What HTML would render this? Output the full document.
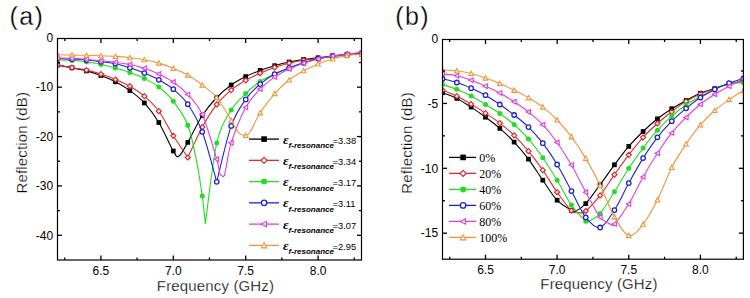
<!DOCTYPE html>
<html><head><meta charset="utf-8"><style>
html,body{margin:0;padding:0;background:#fff;}
body{width:750px;height:298px;overflow:hidden;}
svg{display:block;}
text{font-family:"Liberation Sans",sans-serif;fill:#000;}
.tk{font-size:12px;}
.ax{font-size:15px;letter-spacing:0.15px;stroke:#fff;stroke-width:0.25px;}
.pl{font-size:25px;letter-spacing:1.4px;stroke:#fff;stroke-width:0.3px;}
.eps{font-family:"Liberation Serif",serif;font-style:italic;font-weight:bold;font-size:13.5px;}
.sub{font-size:8px;font-weight:bold;font-style:italic;}
.val{font-size:9.3px;}
.pct{font-family:"Liberation Serif",serif;font-size:12px;}
</style></head><body>
<svg width="750" height="298" viewBox="0 0 750 298">
<clipPath id="ca"><rect x="57.50" y="33.80" width="304.00" height="226.20"/></clipPath>
<g clip-path="url(#ca)">
<path d="M57.50 65.10 C59.91 65.55 67.15 66.83 71.98 67.80 C76.80 68.77 81.63 69.62 86.45 70.90 C91.28 72.18 96.10 73.68 100.93 75.50 C105.75 77.32 110.58 79.28 115.40 81.80 C120.23 84.32 125.06 87.08 129.88 90.60 C134.71 94.12 139.53 97.58 144.36 102.90 C149.18 108.22 154.01 114.48 158.83 122.50 C163.66 130.52 169.98 145.38 173.31 151.00 C176.64 156.62 176.39 157.63 178.80 156.20 C181.21 154.77 183.88 149.18 187.79 142.40 C191.70 135.62 197.44 122.98 202.26 115.50 C207.09 108.02 211.91 102.58 216.74 97.50 C221.56 92.42 226.39 88.48 231.21 85.00 C236.04 81.52 240.87 79.03 245.69 76.60 C250.52 74.17 255.34 72.22 260.17 70.40 C264.99 68.58 269.82 67.10 274.64 65.70 C279.47 64.30 284.29 63.03 289.12 62.00 C293.94 60.97 298.77 60.20 303.60 59.50 C308.42 58.80 313.25 58.37 318.07 57.80 C322.90 57.23 327.72 56.60 332.55 56.10 C337.37 55.60 342.20 55.22 347.02 54.80 C351.85 54.38 359.09 53.80 361.50 53.60" fill="none" stroke="#000000" stroke-width="1.1"/>
<rect x="55.15" y="62.75" width="4.70" height="4.70" fill="#000000"/>
<rect x="69.63" y="65.45" width="4.70" height="4.70" fill="#000000"/>
<rect x="84.10" y="68.55" width="4.70" height="4.70" fill="#000000"/>
<rect x="98.58" y="73.15" width="4.70" height="4.70" fill="#000000"/>
<rect x="113.05" y="79.45" width="4.70" height="4.70" fill="#000000"/>
<rect x="127.53" y="88.25" width="4.70" height="4.70" fill="#000000"/>
<rect x="142.01" y="100.55" width="4.70" height="4.70" fill="#000000"/>
<rect x="156.48" y="120.15" width="4.70" height="4.70" fill="#000000"/>
<rect x="170.96" y="148.65" width="4.70" height="4.70" fill="#000000"/>
<rect x="185.44" y="140.05" width="4.70" height="4.70" fill="#000000"/>
<rect x="199.91" y="113.15" width="4.70" height="4.70" fill="#000000"/>
<rect x="214.39" y="95.15" width="4.70" height="4.70" fill="#000000"/>
<rect x="228.86" y="82.65" width="4.70" height="4.70" fill="#000000"/>
<rect x="243.34" y="74.25" width="4.70" height="4.70" fill="#000000"/>
<rect x="257.82" y="68.05" width="4.70" height="4.70" fill="#000000"/>
<rect x="272.29" y="63.35" width="4.70" height="4.70" fill="#000000"/>
<rect x="286.77" y="59.65" width="4.70" height="4.70" fill="#000000"/>
<rect x="301.25" y="57.15" width="4.70" height="4.70" fill="#000000"/>
<rect x="315.72" y="55.45" width="4.70" height="4.70" fill="#000000"/>
<rect x="330.20" y="53.75" width="4.70" height="4.70" fill="#000000"/>
<rect x="344.67" y="52.45" width="4.70" height="4.70" fill="#000000"/>
<rect x="359.15" y="51.25" width="4.70" height="4.70" fill="#000000"/>
<path d="M57.50 65.00 C59.91 65.45 67.15 66.85 71.98 67.70 C76.80 68.55 81.63 69.03 86.45 70.10 C91.28 71.17 96.10 72.53 100.93 74.10 C105.75 75.67 110.58 77.48 115.40 79.50 C120.23 81.52 125.06 83.42 129.88 86.20 C134.71 88.98 139.53 92.03 144.36 96.20 C149.18 100.37 154.01 104.60 158.83 111.20 C163.66 117.80 168.48 128.08 173.31 135.80 C178.13 143.52 185.37 153.88 187.79 157.50 C190.20 152.45 197.44 136.05 202.26 127.20 C207.09 118.35 211.91 110.58 216.74 104.40 C221.56 98.22 226.39 94.12 231.21 90.10 C236.04 86.08 240.87 83.12 245.69 80.30 C250.52 77.48 255.34 75.35 260.17 73.20 C264.99 71.05 269.82 69.07 274.64 67.40 C279.47 65.73 284.29 64.38 289.12 63.20 C293.94 62.02 298.77 61.08 303.60 60.30 C308.42 59.52 313.25 59.13 318.07 58.50 C322.90 57.87 327.72 57.12 332.55 56.50 C337.37 55.88 342.20 55.23 347.02 54.80 C351.85 54.37 359.09 54.05 361.50 53.90" fill="none" stroke="#e02828" stroke-width="1.1"/>
<path d="M57.50 62.50L60.00 65.00L57.50 67.50L55.00 65.00Z" fill="#fff" stroke="#e02828" stroke-width="1.2"/>
<path d="M71.98 65.20L74.48 67.70L71.98 70.20L69.48 67.70Z" fill="#fff" stroke="#e02828" stroke-width="1.2"/>
<path d="M86.45 67.60L88.95 70.10L86.45 72.60L83.95 70.10Z" fill="#fff" stroke="#e02828" stroke-width="1.2"/>
<path d="M100.93 71.60L103.43 74.10L100.93 76.60L98.43 74.10Z" fill="#fff" stroke="#e02828" stroke-width="1.2"/>
<path d="M115.40 77.00L117.90 79.50L115.40 82.00L112.90 79.50Z" fill="#fff" stroke="#e02828" stroke-width="1.2"/>
<path d="M129.88 83.70L132.38 86.20L129.88 88.70L127.38 86.20Z" fill="#fff" stroke="#e02828" stroke-width="1.2"/>
<path d="M144.36 93.70L146.86 96.20L144.36 98.70L141.86 96.20Z" fill="#fff" stroke="#e02828" stroke-width="1.2"/>
<path d="M158.83 108.70L161.33 111.20L158.83 113.70L156.33 111.20Z" fill="#fff" stroke="#e02828" stroke-width="1.2"/>
<path d="M173.31 133.30L175.81 135.80L173.31 138.30L170.81 135.80Z" fill="#fff" stroke="#e02828" stroke-width="1.2"/>
<path d="M187.79 155.00L190.29 157.50L187.79 160.00L185.29 157.50Z" fill="#fff" stroke="#e02828" stroke-width="1.2"/>
<path d="M202.26 124.70L204.76 127.20L202.26 129.70L199.76 127.20Z" fill="#fff" stroke="#e02828" stroke-width="1.2"/>
<path d="M216.74 101.90L219.24 104.40L216.74 106.90L214.24 104.40Z" fill="#fff" stroke="#e02828" stroke-width="1.2"/>
<path d="M231.21 87.60L233.71 90.10L231.21 92.60L228.71 90.10Z" fill="#fff" stroke="#e02828" stroke-width="1.2"/>
<path d="M245.69 77.80L248.19 80.30L245.69 82.80L243.19 80.30Z" fill="#fff" stroke="#e02828" stroke-width="1.2"/>
<path d="M260.17 70.70L262.67 73.20L260.17 75.70L257.67 73.20Z" fill="#fff" stroke="#e02828" stroke-width="1.2"/>
<path d="M274.64 64.90L277.14 67.40L274.64 69.90L272.14 67.40Z" fill="#fff" stroke="#e02828" stroke-width="1.2"/>
<path d="M289.12 60.70L291.62 63.20L289.12 65.70L286.62 63.20Z" fill="#fff" stroke="#e02828" stroke-width="1.2"/>
<path d="M303.60 57.80L306.10 60.30L303.60 62.80L301.10 60.30Z" fill="#fff" stroke="#e02828" stroke-width="1.2"/>
<path d="M318.07 56.00L320.57 58.50L318.07 61.00L315.57 58.50Z" fill="#fff" stroke="#e02828" stroke-width="1.2"/>
<path d="M332.55 54.00L335.05 56.50L332.55 59.00L330.05 56.50Z" fill="#fff" stroke="#e02828" stroke-width="1.2"/>
<path d="M347.02 52.30L349.52 54.80L347.02 57.30L344.52 54.80Z" fill="#fff" stroke="#e02828" stroke-width="1.2"/>
<path d="M361.50 51.40L364.00 53.90L361.50 56.40L359.00 53.90Z" fill="#fff" stroke="#e02828" stroke-width="1.2"/>
<path d="M57.50 60.00 C59.91 60.07 67.15 60.10 71.98 60.40 C76.80 60.70 81.63 61.12 86.45 61.80 C91.28 62.48 96.10 63.47 100.93 64.50 C105.75 65.53 110.58 66.67 115.40 68.00 C120.23 69.33 125.06 70.77 129.88 72.50 C134.71 74.23 139.53 75.98 144.36 78.40 C149.18 80.82 154.01 83.20 158.83 87.00 C163.66 90.80 168.48 94.83 173.31 101.20 C178.13 107.57 183.94 115.35 187.79 125.20 C191.63 135.05 193.99 148.52 196.40 160.30 C198.81 172.08 200.78 185.28 202.26 195.90 C203.75 206.52 204.79 219.32 205.30 224.00 C207.21 210.50 212.42 161.98 216.74 143.00 C221.06 124.02 226.39 118.33 231.21 110.10 C236.04 101.87 240.87 98.37 245.69 93.60 C250.52 88.83 255.34 84.75 260.17 81.50 C264.99 78.25 269.82 76.37 274.64 74.10 C279.47 71.83 284.29 69.78 289.12 67.90 C293.94 66.02 298.77 64.28 303.60 62.80 C308.42 61.32 313.25 60.05 318.07 59.00 C322.90 57.95 327.72 57.20 332.55 56.50 C337.37 55.80 342.20 55.32 347.02 54.80 C351.85 54.28 359.09 53.63 361.50 53.40" fill="none" stroke="#22dd22" stroke-width="1.1"/>
<circle cx="57.50" cy="60.00" r="2.50" fill="#22dd22"/>
<circle cx="71.98" cy="60.40" r="2.50" fill="#22dd22"/>
<circle cx="86.45" cy="61.80" r="2.50" fill="#22dd22"/>
<circle cx="100.93" cy="64.50" r="2.50" fill="#22dd22"/>
<circle cx="115.40" cy="68.00" r="2.50" fill="#22dd22"/>
<circle cx="129.88" cy="72.50" r="2.50" fill="#22dd22"/>
<circle cx="144.36" cy="78.40" r="2.50" fill="#22dd22"/>
<circle cx="158.83" cy="87.00" r="2.50" fill="#22dd22"/>
<circle cx="173.31" cy="101.20" r="2.50" fill="#22dd22"/>
<circle cx="187.79" cy="125.20" r="2.50" fill="#22dd22"/>
<circle cx="202.26" cy="195.90" r="2.50" fill="#22dd22"/>
<circle cx="216.74" cy="143.00" r="2.50" fill="#22dd22"/>
<circle cx="231.21" cy="110.10" r="2.50" fill="#22dd22"/>
<circle cx="245.69" cy="93.60" r="2.50" fill="#22dd22"/>
<circle cx="260.17" cy="81.50" r="2.50" fill="#22dd22"/>
<circle cx="274.64" cy="74.10" r="2.50" fill="#22dd22"/>
<circle cx="289.12" cy="67.90" r="2.50" fill="#22dd22"/>
<circle cx="303.60" cy="62.80" r="2.50" fill="#22dd22"/>
<circle cx="318.07" cy="59.00" r="2.50" fill="#22dd22"/>
<circle cx="332.55" cy="56.50" r="2.50" fill="#22dd22"/>
<circle cx="347.02" cy="54.80" r="2.50" fill="#22dd22"/>
<circle cx="361.50" cy="53.40" r="2.50" fill="#22dd22"/>
<path d="M57.50 58.40 C59.91 58.52 67.15 58.83 71.98 59.10 C76.80 59.37 81.63 59.55 86.45 60.00 C91.28 60.45 96.10 61.18 100.93 61.80 C105.75 62.42 110.58 62.70 115.40 63.70 C120.23 64.70 125.06 66.23 129.88 67.80 C134.71 69.37 139.53 71.10 144.36 73.10 C149.18 75.10 154.01 77.12 158.83 79.80 C163.66 82.48 168.48 85.13 173.31 89.20 C178.13 93.27 182.96 97.10 187.79 104.20 C192.61 111.30 197.44 118.87 202.26 131.80 C207.09 144.73 214.33 173.47 216.74 181.80 C219.15 172.48 226.39 139.63 231.21 125.90 C236.04 112.17 240.87 106.37 245.69 99.40 C250.52 92.43 255.34 88.32 260.17 84.10 C264.99 79.88 269.82 76.80 274.64 74.10 C279.47 71.40 284.29 69.78 289.12 67.90 C293.94 66.02 298.77 64.37 303.60 62.80 C308.42 61.23 313.25 59.63 318.07 58.50 C322.90 57.37 327.72 56.70 332.55 56.00 C337.37 55.30 342.20 54.83 347.02 54.30 C351.85 53.77 359.09 53.05 361.50 52.80" fill="none" stroke="#2222cc" stroke-width="1.1"/>
<circle cx="57.50" cy="58.40" r="2.25" fill="#fff" stroke="#2222cc" stroke-width="1.3"/>
<circle cx="71.98" cy="59.10" r="2.25" fill="#fff" stroke="#2222cc" stroke-width="1.3"/>
<circle cx="86.45" cy="60.00" r="2.25" fill="#fff" stroke="#2222cc" stroke-width="1.3"/>
<circle cx="100.93" cy="61.80" r="2.25" fill="#fff" stroke="#2222cc" stroke-width="1.3"/>
<circle cx="115.40" cy="63.70" r="2.25" fill="#fff" stroke="#2222cc" stroke-width="1.3"/>
<circle cx="129.88" cy="67.80" r="2.25" fill="#fff" stroke="#2222cc" stroke-width="1.3"/>
<circle cx="144.36" cy="73.10" r="2.25" fill="#fff" stroke="#2222cc" stroke-width="1.3"/>
<circle cx="158.83" cy="79.80" r="2.25" fill="#fff" stroke="#2222cc" stroke-width="1.3"/>
<circle cx="173.31" cy="89.20" r="2.25" fill="#fff" stroke="#2222cc" stroke-width="1.3"/>
<circle cx="187.79" cy="104.20" r="2.25" fill="#fff" stroke="#2222cc" stroke-width="1.3"/>
<circle cx="202.26" cy="131.80" r="2.25" fill="#fff" stroke="#2222cc" stroke-width="1.3"/>
<circle cx="216.74" cy="181.80" r="2.25" fill="#fff" stroke="#2222cc" stroke-width="1.3"/>
<circle cx="231.21" cy="125.90" r="2.25" fill="#fff" stroke="#2222cc" stroke-width="1.3"/>
<circle cx="245.69" cy="99.40" r="2.25" fill="#fff" stroke="#2222cc" stroke-width="1.3"/>
<circle cx="260.17" cy="84.10" r="2.25" fill="#fff" stroke="#2222cc" stroke-width="1.3"/>
<circle cx="274.64" cy="74.10" r="2.25" fill="#fff" stroke="#2222cc" stroke-width="1.3"/>
<circle cx="289.12" cy="67.90" r="2.25" fill="#fff" stroke="#2222cc" stroke-width="1.3"/>
<circle cx="303.60" cy="62.80" r="2.25" fill="#fff" stroke="#2222cc" stroke-width="1.3"/>
<circle cx="318.07" cy="58.50" r="2.25" fill="#fff" stroke="#2222cc" stroke-width="1.3"/>
<circle cx="332.55" cy="56.00" r="2.25" fill="#fff" stroke="#2222cc" stroke-width="1.3"/>
<circle cx="347.02" cy="54.30" r="2.25" fill="#fff" stroke="#2222cc" stroke-width="1.3"/>
<circle cx="361.50" cy="52.80" r="2.25" fill="#fff" stroke="#2222cc" stroke-width="1.3"/>
<path d="M57.50 58.00 C59.91 58.07 67.15 58.20 71.98 58.40 C76.80 58.60 81.63 58.80 86.45 59.20 C91.28 59.60 96.10 60.27 100.93 60.80 C105.75 61.33 110.58 61.78 115.40 62.40 C120.23 63.02 125.06 63.53 129.88 64.50 C134.71 65.47 139.53 66.62 144.36 68.20 C149.18 69.78 154.01 71.70 158.83 74.00 C163.66 76.30 168.48 78.57 173.31 82.00 C178.13 85.43 182.96 89.18 187.79 94.60 C192.61 100.02 197.44 103.72 202.26 114.50 C207.09 125.28 213.85 149.52 216.74 159.30 C219.63 169.08 218.69 170.42 219.60 173.20 C220.51 175.98 221.30 176.03 222.20 176.00 C223.10 175.97 223.50 178.55 225.00 173.00 C226.50 167.45 227.77 153.63 231.21 142.70 C234.66 131.77 240.87 116.35 245.69 107.40 C250.52 98.45 255.34 94.05 260.17 89.00 C264.99 83.95 269.82 80.43 274.64 77.10 C279.47 73.77 284.29 71.32 289.12 69.00 C293.94 66.68 298.77 64.87 303.60 63.20 C308.42 61.53 313.25 60.20 318.07 59.00 C322.90 57.80 327.72 56.78 332.55 56.00 C337.37 55.22 342.20 54.92 347.02 54.30 C351.85 53.68 359.09 52.63 361.50 52.30" fill="none" stroke="#e23ce2" stroke-width="1.1"/>
<path d="M55.09 58.00L59.45 55.70L59.45 60.30Z" fill="#fff" stroke="#e23ce2" stroke-width="1.1"/>
<path d="M69.56 58.40L73.93 56.10L73.93 60.70Z" fill="#fff" stroke="#e23ce2" stroke-width="1.1"/>
<path d="M84.04 59.20L88.41 56.90L88.41 61.50Z" fill="#fff" stroke="#e23ce2" stroke-width="1.1"/>
<path d="M98.51 60.80L102.88 58.50L102.88 63.10Z" fill="#fff" stroke="#e23ce2" stroke-width="1.1"/>
<path d="M112.99 62.40L117.36 60.10L117.36 64.70Z" fill="#fff" stroke="#e23ce2" stroke-width="1.1"/>
<path d="M127.47 64.50L131.84 62.20L131.84 66.80Z" fill="#fff" stroke="#e23ce2" stroke-width="1.1"/>
<path d="M141.94 68.20L146.31 65.90L146.31 70.50Z" fill="#fff" stroke="#e23ce2" stroke-width="1.1"/>
<path d="M156.42 74.00L160.79 71.70L160.79 76.30Z" fill="#fff" stroke="#e23ce2" stroke-width="1.1"/>
<path d="M170.89 82.00L175.26 79.70L175.26 84.30Z" fill="#fff" stroke="#e23ce2" stroke-width="1.1"/>
<path d="M185.37 94.60L189.74 92.30L189.74 96.90Z" fill="#fff" stroke="#e23ce2" stroke-width="1.1"/>
<path d="M199.85 114.50L204.22 112.20L204.22 116.80Z" fill="#fff" stroke="#e23ce2" stroke-width="1.1"/>
<path d="M214.32 159.30L218.69 157.00L218.69 161.60Z" fill="#fff" stroke="#e23ce2" stroke-width="1.1"/>
<path d="M228.80 142.70L233.17 140.40L233.17 145.00Z" fill="#fff" stroke="#e23ce2" stroke-width="1.1"/>
<path d="M243.28 107.40L247.65 105.10L247.65 109.70Z" fill="#fff" stroke="#e23ce2" stroke-width="1.1"/>
<path d="M257.75 89.00L262.12 86.70L262.12 91.30Z" fill="#fff" stroke="#e23ce2" stroke-width="1.1"/>
<path d="M272.23 77.10L276.60 74.80L276.60 79.40Z" fill="#fff" stroke="#e23ce2" stroke-width="1.1"/>
<path d="M286.70 69.00L291.07 66.70L291.07 71.30Z" fill="#fff" stroke="#e23ce2" stroke-width="1.1"/>
<path d="M301.18 63.20L305.55 60.90L305.55 65.50Z" fill="#fff" stroke="#e23ce2" stroke-width="1.1"/>
<path d="M315.66 59.00L320.03 56.70L320.03 61.30Z" fill="#fff" stroke="#e23ce2" stroke-width="1.1"/>
<path d="M330.13 56.00L334.50 53.70L334.50 58.30Z" fill="#fff" stroke="#e23ce2" stroke-width="1.1"/>
<path d="M344.61 54.30L348.98 52.00L348.98 56.60Z" fill="#fff" stroke="#e23ce2" stroke-width="1.1"/>
<path d="M359.08 52.30L363.45 50.00L363.45 54.60Z" fill="#fff" stroke="#e23ce2" stroke-width="1.1"/>
<path d="M57.50 54.70 C59.91 54.77 67.15 55.00 71.98 55.10 C76.80 55.20 81.63 55.20 86.45 55.30 C91.28 55.40 96.10 55.52 100.93 55.70 C105.75 55.88 110.58 56.07 115.40 56.40 C120.23 56.73 125.06 57.15 129.88 57.70 C134.71 58.25 139.53 58.80 144.36 59.70 C149.18 60.60 154.01 61.67 158.83 63.10 C163.66 64.53 168.48 66.30 173.31 68.30 C178.13 70.30 182.96 72.30 187.79 75.10 C192.61 77.90 197.44 81.37 202.26 85.10 C207.09 88.83 211.91 91.65 216.74 97.50 C221.56 103.35 227.60 114.35 231.21 120.20 C234.82 126.05 235.99 130.05 238.40 132.60 C240.81 135.15 243.67 135.73 245.69 135.50 C247.71 135.27 248.09 134.98 250.50 131.20 C252.91 127.42 256.14 119.07 260.17 112.80 C264.19 106.53 269.82 99.07 274.64 93.60 C279.47 88.13 284.29 83.82 289.12 80.00 C293.94 76.18 298.77 73.37 303.60 70.70 C308.42 68.03 313.25 65.95 318.07 64.00 C322.90 62.05 327.72 60.40 332.55 59.00 C337.37 57.60 342.20 56.38 347.02 55.60 C351.85 54.82 359.09 54.52 361.50 54.30" fill="none" stroke="#f0963a" stroke-width="1.1"/>
<path d="M57.50 52.40L59.80 56.77L55.20 56.77Z" fill="#fff" stroke="#f0963a" stroke-width="1.1"/>
<path d="M71.98 52.80L74.28 57.17L69.68 57.17Z" fill="#fff" stroke="#f0963a" stroke-width="1.1"/>
<path d="M86.45 53.00L88.75 57.37L84.15 57.37Z" fill="#fff" stroke="#f0963a" stroke-width="1.1"/>
<path d="M100.93 53.40L103.23 57.77L98.63 57.77Z" fill="#fff" stroke="#f0963a" stroke-width="1.1"/>
<path d="M115.40 54.10L117.70 58.47L113.10 58.47Z" fill="#fff" stroke="#f0963a" stroke-width="1.1"/>
<path d="M129.88 55.40L132.18 59.77L127.58 59.77Z" fill="#fff" stroke="#f0963a" stroke-width="1.1"/>
<path d="M144.36 57.40L146.66 61.77L142.06 61.77Z" fill="#fff" stroke="#f0963a" stroke-width="1.1"/>
<path d="M158.83 60.80L161.13 65.17L156.53 65.17Z" fill="#fff" stroke="#f0963a" stroke-width="1.1"/>
<path d="M173.31 66.00L175.61 70.37L171.01 70.37Z" fill="#fff" stroke="#f0963a" stroke-width="1.1"/>
<path d="M187.79 72.80L190.09 77.17L185.49 77.17Z" fill="#fff" stroke="#f0963a" stroke-width="1.1"/>
<path d="M202.26 82.80L204.56 87.17L199.96 87.17Z" fill="#fff" stroke="#f0963a" stroke-width="1.1"/>
<path d="M216.74 95.20L219.04 99.57L214.44 99.57Z" fill="#fff" stroke="#f0963a" stroke-width="1.1"/>
<path d="M231.21 117.90L233.51 122.27L228.91 122.27Z" fill="#fff" stroke="#f0963a" stroke-width="1.1"/>
<path d="M245.69 133.20L247.99 137.57L243.39 137.57Z" fill="#fff" stroke="#f0963a" stroke-width="1.1"/>
<path d="M260.17 110.50L262.47 114.87L257.87 114.87Z" fill="#fff" stroke="#f0963a" stroke-width="1.1"/>
<path d="M274.64 91.30L276.94 95.67L272.34 95.67Z" fill="#fff" stroke="#f0963a" stroke-width="1.1"/>
<path d="M289.12 77.70L291.42 82.07L286.82 82.07Z" fill="#fff" stroke="#f0963a" stroke-width="1.1"/>
<path d="M303.60 68.40L305.90 72.77L301.30 72.77Z" fill="#fff" stroke="#f0963a" stroke-width="1.1"/>
<path d="M318.07 61.70L320.37 66.07L315.77 66.07Z" fill="#fff" stroke="#f0963a" stroke-width="1.1"/>
<path d="M332.55 56.70L334.85 61.07L330.25 61.07Z" fill="#fff" stroke="#f0963a" stroke-width="1.1"/>
<path d="M347.02 53.30L349.32 57.67L344.72 57.67Z" fill="#fff" stroke="#f0963a" stroke-width="1.1"/>
<path d="M361.50 52.00L363.80 56.37L359.20 56.37Z" fill="#fff" stroke="#f0963a" stroke-width="1.1"/>
</g>
<rect x="57.50" y="38.50" width="304.00" height="221.50" fill="none" stroke="#000" stroke-width="1.2"/>
<line x1="64.74" y1="260.00" x2="64.74" y2="257.50" stroke="#000" stroke-width="1.3"/>
<line x1="64.74" y1="38.50" x2="64.74" y2="41.00" stroke="#000" stroke-width="1.3"/>
<line x1="100.93" y1="260.00" x2="100.93" y2="255.50" stroke="#000" stroke-width="1.3"/>
<line x1="100.93" y1="38.50" x2="100.93" y2="43.00" stroke="#000" stroke-width="1.3"/>
<text x="100.93" y="274.50" class="tk" text-anchor="middle">6.5</text>
<line x1="137.12" y1="260.00" x2="137.12" y2="257.50" stroke="#000" stroke-width="1.3"/>
<line x1="137.12" y1="38.50" x2="137.12" y2="41.00" stroke="#000" stroke-width="1.3"/>
<line x1="173.31" y1="260.00" x2="173.31" y2="255.50" stroke="#000" stroke-width="1.3"/>
<line x1="173.31" y1="38.50" x2="173.31" y2="43.00" stroke="#000" stroke-width="1.3"/>
<text x="173.31" y="274.50" class="tk" text-anchor="middle">7.0</text>
<line x1="209.50" y1="260.00" x2="209.50" y2="257.50" stroke="#000" stroke-width="1.3"/>
<line x1="209.50" y1="38.50" x2="209.50" y2="41.00" stroke="#000" stroke-width="1.3"/>
<line x1="245.69" y1="260.00" x2="245.69" y2="255.50" stroke="#000" stroke-width="1.3"/>
<line x1="245.69" y1="38.50" x2="245.69" y2="43.00" stroke="#000" stroke-width="1.3"/>
<text x="245.69" y="274.50" class="tk" text-anchor="middle">7.5</text>
<line x1="281.88" y1="260.00" x2="281.88" y2="257.50" stroke="#000" stroke-width="1.3"/>
<line x1="281.88" y1="38.50" x2="281.88" y2="41.00" stroke="#000" stroke-width="1.3"/>
<line x1="318.07" y1="260.00" x2="318.07" y2="255.50" stroke="#000" stroke-width="1.3"/>
<line x1="318.07" y1="38.50" x2="318.07" y2="43.00" stroke="#000" stroke-width="1.3"/>
<text x="318.07" y="274.50" class="tk" text-anchor="middle">8.0</text>
<line x1="354.26" y1="260.00" x2="354.26" y2="257.50" stroke="#000" stroke-width="1.3"/>
<line x1="354.26" y1="38.50" x2="354.26" y2="41.00" stroke="#000" stroke-width="1.3"/>
<line x1="57.50" y1="87.18" x2="62.00" y2="87.18" stroke="#000" stroke-width="1.3"/>
<line x1="361.50" y1="87.18" x2="357.00" y2="87.18" stroke="#000" stroke-width="1.3"/>
<line x1="57.50" y1="136.56" x2="62.00" y2="136.56" stroke="#000" stroke-width="1.3"/>
<line x1="361.50" y1="136.56" x2="357.00" y2="136.56" stroke="#000" stroke-width="1.3"/>
<line x1="57.50" y1="185.93" x2="62.00" y2="185.93" stroke="#000" stroke-width="1.3"/>
<line x1="361.50" y1="185.93" x2="357.00" y2="185.93" stroke="#000" stroke-width="1.3"/>
<line x1="57.50" y1="235.31" x2="62.00" y2="235.31" stroke="#000" stroke-width="1.3"/>
<line x1="361.50" y1="235.31" x2="357.00" y2="235.31" stroke="#000" stroke-width="1.3"/>
<line x1="57.50" y1="62.49" x2="60.00" y2="62.49" stroke="#000" stroke-width="1.3"/>
<line x1="361.50" y1="62.49" x2="359.00" y2="62.49" stroke="#000" stroke-width="1.3"/>
<line x1="57.50" y1="111.87" x2="60.00" y2="111.87" stroke="#000" stroke-width="1.3"/>
<line x1="361.50" y1="111.87" x2="359.00" y2="111.87" stroke="#000" stroke-width="1.3"/>
<line x1="57.50" y1="161.24" x2="60.00" y2="161.24" stroke="#000" stroke-width="1.3"/>
<line x1="361.50" y1="161.24" x2="359.00" y2="161.24" stroke="#000" stroke-width="1.3"/>
<line x1="57.50" y1="210.62" x2="60.00" y2="210.62" stroke="#000" stroke-width="1.3"/>
<line x1="361.50" y1="210.62" x2="359.00" y2="210.62" stroke="#000" stroke-width="1.3"/>
<text x="53.20" y="42.10" class="tk" text-anchor="end">0</text>
<text x="53.20" y="91.48" class="tk" text-anchor="end">-10</text>
<text x="53.20" y="140.86" class="tk" text-anchor="end">-20</text>
<text x="53.20" y="190.23" class="tk" text-anchor="end">-30</text>
<text x="53.20" y="239.61" class="tk" text-anchor="end">-40</text>
<line x1="249" y1="139.10" x2="279" y2="139.10" stroke="#000000" stroke-width="1.3"/>
<rect x="261.28" y="136.28" width="5.64" height="5.64" fill="#000000"/>
<text x="283" y="143.50" class="eps">&#949;</text>
<text x="288.6" y="148.00" class="sub">f-resonance</text>
<text x="332.6" y="143.70" class="val">=3.38</text>
<line x1="249" y1="160.35" x2="279" y2="160.35" stroke="#e02828" stroke-width="1.3"/>
<path d="M264.10 157.35L267.10 160.35L264.10 163.35L261.10 160.35Z" fill="#fff" stroke="#e02828" stroke-width="1.2"/>
<text x="283" y="164.75" class="eps">&#949;</text>
<text x="288.6" y="169.25" class="sub">f-resonance</text>
<text x="332.6" y="164.95" class="val">=3.34</text>
<line x1="249" y1="181.60" x2="279" y2="181.60" stroke="#22dd22" stroke-width="1.3"/>
<circle cx="264.10" cy="181.60" r="3.00" fill="#22dd22"/>
<text x="283" y="186.00" class="eps">&#949;</text>
<text x="288.6" y="190.50" class="sub">f-resonance</text>
<text x="332.6" y="186.20" class="val">=3.17</text>
<line x1="249" y1="202.85" x2="279" y2="202.85" stroke="#2222cc" stroke-width="1.3"/>
<circle cx="264.10" cy="202.85" r="2.70" fill="#fff" stroke="#2222cc" stroke-width="1.3"/>
<text x="283" y="207.25" class="eps">&#949;</text>
<text x="288.6" y="211.75" class="sub">f-resonance</text>
<text x="332.6" y="207.45" class="val">=3.11</text>
<line x1="249" y1="224.10" x2="279" y2="224.10" stroke="#e23ce2" stroke-width="1.3"/>
<path d="M261.20 224.10L266.45 221.34L266.45 226.86Z" fill="#fff" stroke="#e23ce2" stroke-width="1.1"/>
<text x="283" y="228.50" class="eps">&#949;</text>
<text x="288.6" y="233.00" class="sub">f-resonance</text>
<text x="332.6" y="228.70" class="val">=3.07</text>
<line x1="249" y1="245.35" x2="279" y2="245.35" stroke="#f0963a" stroke-width="1.3"/>
<path d="M264.10 242.59L266.86 247.83L261.34 247.83Z" fill="#fff" stroke="#f0963a" stroke-width="1.1"/>
<text x="283" y="249.75" class="eps">&#949;</text>
<text x="288.6" y="254.25" class="sub">f-resonance</text>
<text x="332.6" y="249.95" class="val">=2.95</text>
<clipPath id="cb"><rect x="442.50" y="34.60" width="300.90" height="224.50"/></clipPath>
<g clip-path="url(#cb)">
<path d="M442.50 92.80 C444.89 93.73 452.05 96.02 456.83 98.40 C461.60 100.78 466.38 103.97 471.16 107.10 C475.93 110.23 480.71 113.65 485.49 117.20 C490.26 120.75 495.04 124.25 499.81 128.40 C504.59 132.55 509.37 136.98 514.14 142.10 C518.92 147.22 523.70 152.75 528.47 159.10 C533.25 165.45 538.02 173.35 542.80 180.20 C547.58 187.05 552.35 195.18 557.13 200.20 C561.90 205.22 568.40 208.47 571.46 210.30 C574.52 212.13 573.11 212.32 575.50 211.20 C577.89 210.08 581.68 208.02 585.79 203.60 C589.89 199.18 595.34 191.17 600.11 184.70 C604.89 178.23 609.67 171.18 614.44 164.80 C619.22 158.42 624.00 151.95 628.77 146.40 C633.55 140.85 638.32 136.10 643.10 131.50 C647.88 126.90 652.65 122.60 657.43 118.80 C662.20 115.00 666.98 111.75 671.76 108.70 C676.53 105.65 681.31 103.08 686.09 100.50 C690.86 97.92 695.64 95.20 700.41 93.20 C705.19 91.20 709.97 90.07 714.74 88.50 C719.52 86.93 724.30 84.92 729.07 83.80 C733.85 82.68 741.01 82.13 743.40 81.80" fill="none" stroke="#000000" stroke-width="1.1"/>
<rect x="440.15" y="90.45" width="4.70" height="4.70" fill="#000000"/>
<rect x="454.48" y="96.05" width="4.70" height="4.70" fill="#000000"/>
<rect x="468.81" y="104.75" width="4.70" height="4.70" fill="#000000"/>
<rect x="483.14" y="114.85" width="4.70" height="4.70" fill="#000000"/>
<rect x="497.46" y="126.05" width="4.70" height="4.70" fill="#000000"/>
<rect x="511.79" y="139.75" width="4.70" height="4.70" fill="#000000"/>
<rect x="526.12" y="156.75" width="4.70" height="4.70" fill="#000000"/>
<rect x="540.45" y="177.85" width="4.70" height="4.70" fill="#000000"/>
<rect x="554.78" y="197.85" width="4.70" height="4.70" fill="#000000"/>
<rect x="569.11" y="207.95" width="4.70" height="4.70" fill="#000000"/>
<rect x="583.44" y="201.25" width="4.70" height="4.70" fill="#000000"/>
<rect x="597.76" y="182.35" width="4.70" height="4.70" fill="#000000"/>
<rect x="612.09" y="162.45" width="4.70" height="4.70" fill="#000000"/>
<rect x="626.42" y="144.05" width="4.70" height="4.70" fill="#000000"/>
<rect x="640.75" y="129.15" width="4.70" height="4.70" fill="#000000"/>
<rect x="655.08" y="116.45" width="4.70" height="4.70" fill="#000000"/>
<rect x="669.41" y="106.35" width="4.70" height="4.70" fill="#000000"/>
<rect x="683.74" y="98.15" width="4.70" height="4.70" fill="#000000"/>
<rect x="698.06" y="90.85" width="4.70" height="4.70" fill="#000000"/>
<rect x="712.39" y="86.15" width="4.70" height="4.70" fill="#000000"/>
<rect x="726.72" y="81.45" width="4.70" height="4.70" fill="#000000"/>
<rect x="741.05" y="79.45" width="4.70" height="4.70" fill="#000000"/>
<path d="M442.50 90.10 C444.89 91.12 452.05 93.87 456.83 96.20 C461.60 98.53 466.38 101.27 471.16 104.10 C475.93 106.93 480.71 110.03 485.49 113.20 C490.26 116.37 495.04 119.40 499.81 123.10 C504.59 126.80 509.37 130.72 514.14 135.40 C518.92 140.08 523.70 145.40 528.47 151.20 C533.25 157.00 538.02 163.37 542.80 170.20 C547.58 177.03 552.35 185.47 557.13 192.20 C561.90 198.93 567.90 207.20 571.46 210.60 C575.02 214.00 576.11 212.53 578.50 212.60 C580.89 212.67 582.18 213.87 585.79 211.00 C589.39 208.13 595.34 201.47 600.11 195.40 C604.89 189.33 609.67 181.37 614.44 174.60 C619.22 167.83 624.00 161.02 628.77 154.80 C633.55 148.58 638.32 142.52 643.10 137.30 C647.88 132.08 652.65 127.75 657.43 123.50 C662.20 119.25 666.98 115.48 671.76 111.80 C676.53 108.12 681.31 104.38 686.09 101.40 C690.86 98.42 695.64 95.98 700.41 93.90 C705.19 91.82 709.97 90.58 714.74 88.90 C719.52 87.22 724.30 85.12 729.07 83.80 C733.85 82.48 741.01 81.47 743.40 81.00" fill="none" stroke="#e02828" stroke-width="1.1"/>
<path d="M442.50 87.60L445.00 90.10L442.50 92.60L440.00 90.10Z" fill="#fff" stroke="#e02828" stroke-width="1.2"/>
<path d="M456.83 93.70L459.33 96.20L456.83 98.70L454.33 96.20Z" fill="#fff" stroke="#e02828" stroke-width="1.2"/>
<path d="M471.16 101.60L473.66 104.10L471.16 106.60L468.66 104.10Z" fill="#fff" stroke="#e02828" stroke-width="1.2"/>
<path d="M485.49 110.70L487.99 113.20L485.49 115.70L482.99 113.20Z" fill="#fff" stroke="#e02828" stroke-width="1.2"/>
<path d="M499.81 120.60L502.31 123.10L499.81 125.60L497.31 123.10Z" fill="#fff" stroke="#e02828" stroke-width="1.2"/>
<path d="M514.14 132.90L516.64 135.40L514.14 137.90L511.64 135.40Z" fill="#fff" stroke="#e02828" stroke-width="1.2"/>
<path d="M528.47 148.70L530.97 151.20L528.47 153.70L525.97 151.20Z" fill="#fff" stroke="#e02828" stroke-width="1.2"/>
<path d="M542.80 167.70L545.30 170.20L542.80 172.70L540.30 170.20Z" fill="#fff" stroke="#e02828" stroke-width="1.2"/>
<path d="M557.13 189.70L559.63 192.20L557.13 194.70L554.63 192.20Z" fill="#fff" stroke="#e02828" stroke-width="1.2"/>
<path d="M571.46 208.10L573.96 210.60L571.46 213.10L568.96 210.60Z" fill="#fff" stroke="#e02828" stroke-width="1.2"/>
<path d="M585.79 208.50L588.29 211.00L585.79 213.50L583.29 211.00Z" fill="#fff" stroke="#e02828" stroke-width="1.2"/>
<path d="M600.11 192.90L602.61 195.40L600.11 197.90L597.61 195.40Z" fill="#fff" stroke="#e02828" stroke-width="1.2"/>
<path d="M614.44 172.10L616.94 174.60L614.44 177.10L611.94 174.60Z" fill="#fff" stroke="#e02828" stroke-width="1.2"/>
<path d="M628.77 152.30L631.27 154.80L628.77 157.30L626.27 154.80Z" fill="#fff" stroke="#e02828" stroke-width="1.2"/>
<path d="M643.10 134.80L645.60 137.30L643.10 139.80L640.60 137.30Z" fill="#fff" stroke="#e02828" stroke-width="1.2"/>
<path d="M657.43 121.00L659.93 123.50L657.43 126.00L654.93 123.50Z" fill="#fff" stroke="#e02828" stroke-width="1.2"/>
<path d="M671.76 109.30L674.26 111.80L671.76 114.30L669.26 111.80Z" fill="#fff" stroke="#e02828" stroke-width="1.2"/>
<path d="M686.09 98.90L688.59 101.40L686.09 103.90L683.59 101.40Z" fill="#fff" stroke="#e02828" stroke-width="1.2"/>
<path d="M700.41 91.40L702.91 93.90L700.41 96.40L697.91 93.90Z" fill="#fff" stroke="#e02828" stroke-width="1.2"/>
<path d="M714.74 86.40L717.24 88.90L714.74 91.40L712.24 88.90Z" fill="#fff" stroke="#e02828" stroke-width="1.2"/>
<path d="M729.07 81.30L731.57 83.80L729.07 86.30L726.57 83.80Z" fill="#fff" stroke="#e02828" stroke-width="1.2"/>
<path d="M743.40 78.50L745.90 81.00L743.40 83.50L740.90 81.00Z" fill="#fff" stroke="#e02828" stroke-width="1.2"/>
<path d="M442.50 84.50 C444.89 85.30 452.05 87.38 456.83 89.30 C461.60 91.22 466.38 93.47 471.16 96.00 C475.93 98.53 480.71 101.58 485.49 104.50 C490.26 107.42 495.04 110.17 499.81 113.50 C504.59 116.83 509.37 120.27 514.14 124.50 C518.92 128.73 523.70 133.35 528.47 138.90 C533.25 144.45 538.02 150.90 542.80 157.80 C547.58 164.70 552.35 172.42 557.13 180.30 C561.90 188.18 566.68 198.28 571.46 205.10 C576.23 211.92 583.00 218.47 585.79 221.20 C588.58 223.93 585.81 222.80 588.20 221.50 C590.59 220.20 595.74 218.35 600.11 213.40 C604.49 208.45 609.67 199.33 614.44 191.80 C619.22 184.27 624.00 175.48 628.77 168.20 C633.55 160.92 638.32 154.43 643.10 148.10 C647.88 141.77 652.65 135.53 657.43 130.20 C662.20 124.87 666.98 120.35 671.76 116.10 C676.53 111.85 681.31 107.97 686.09 104.70 C690.86 101.43 695.64 99.08 700.41 96.50 C705.19 93.92 709.97 91.32 714.74 89.20 C719.52 87.08 724.30 84.92 729.07 83.80 C733.85 82.68 741.01 82.72 743.40 82.50" fill="none" stroke="#22dd22" stroke-width="1.1"/>
<circle cx="442.50" cy="84.50" r="2.50" fill="#22dd22"/>
<circle cx="456.83" cy="89.30" r="2.50" fill="#22dd22"/>
<circle cx="471.16" cy="96.00" r="2.50" fill="#22dd22"/>
<circle cx="485.49" cy="104.50" r="2.50" fill="#22dd22"/>
<circle cx="499.81" cy="113.50" r="2.50" fill="#22dd22"/>
<circle cx="514.14" cy="124.50" r="2.50" fill="#22dd22"/>
<circle cx="528.47" cy="138.90" r="2.50" fill="#22dd22"/>
<circle cx="542.80" cy="157.80" r="2.50" fill="#22dd22"/>
<circle cx="557.13" cy="180.30" r="2.50" fill="#22dd22"/>
<circle cx="571.46" cy="205.10" r="2.50" fill="#22dd22"/>
<circle cx="585.79" cy="221.20" r="2.50" fill="#22dd22"/>
<circle cx="600.11" cy="213.40" r="2.50" fill="#22dd22"/>
<circle cx="614.44" cy="191.80" r="2.50" fill="#22dd22"/>
<circle cx="628.77" cy="168.20" r="2.50" fill="#22dd22"/>
<circle cx="643.10" cy="148.10" r="2.50" fill="#22dd22"/>
<circle cx="657.43" cy="130.20" r="2.50" fill="#22dd22"/>
<circle cx="671.76" cy="116.10" r="2.50" fill="#22dd22"/>
<circle cx="686.09" cy="104.70" r="2.50" fill="#22dd22"/>
<circle cx="700.41" cy="96.50" r="2.50" fill="#22dd22"/>
<circle cx="714.74" cy="89.20" r="2.50" fill="#22dd22"/>
<circle cx="729.07" cy="83.80" r="2.50" fill="#22dd22"/>
<circle cx="743.40" cy="82.50" r="2.50" fill="#22dd22"/>
<path d="M442.50 78.90 C444.89 79.50 452.05 80.95 456.83 82.50 C461.60 84.05 466.38 86.08 471.16 88.20 C475.93 90.32 480.71 92.48 485.49 95.20 C490.26 97.92 495.04 101.20 499.81 104.50 C504.59 107.80 509.37 111.23 514.14 115.00 C518.92 118.77 523.70 122.40 528.47 127.10 C533.25 131.80 538.02 136.97 542.80 143.20 C547.58 149.43 552.35 156.52 557.13 164.50 C561.90 172.48 566.68 182.28 571.46 191.10 C576.23 199.92 581.01 211.33 585.79 217.40 C590.56 223.47 595.34 228.72 600.11 227.50 C604.89 226.28 609.67 217.50 614.44 210.10 C619.22 202.70 624.00 191.77 628.77 183.10 C633.55 174.43 638.32 165.73 643.10 158.10 C647.88 150.47 652.65 143.45 657.43 137.30 C662.20 131.15 666.98 126.03 671.76 121.20 C676.53 116.37 681.31 112.25 686.09 108.30 C690.86 104.35 695.64 100.65 700.41 97.50 C705.19 94.35 709.97 91.80 714.74 89.40 C719.52 87.00 724.30 84.93 729.07 83.10 C733.85 81.27 741.01 79.18 743.40 78.40" fill="none" stroke="#2222cc" stroke-width="1.1"/>
<circle cx="442.50" cy="78.90" r="2.25" fill="#fff" stroke="#2222cc" stroke-width="1.3"/>
<circle cx="456.83" cy="82.50" r="2.25" fill="#fff" stroke="#2222cc" stroke-width="1.3"/>
<circle cx="471.16" cy="88.20" r="2.25" fill="#fff" stroke="#2222cc" stroke-width="1.3"/>
<circle cx="485.49" cy="95.20" r="2.25" fill="#fff" stroke="#2222cc" stroke-width="1.3"/>
<circle cx="499.81" cy="104.50" r="2.25" fill="#fff" stroke="#2222cc" stroke-width="1.3"/>
<circle cx="514.14" cy="115.00" r="2.25" fill="#fff" stroke="#2222cc" stroke-width="1.3"/>
<circle cx="528.47" cy="127.10" r="2.25" fill="#fff" stroke="#2222cc" stroke-width="1.3"/>
<circle cx="542.80" cy="143.20" r="2.25" fill="#fff" stroke="#2222cc" stroke-width="1.3"/>
<circle cx="557.13" cy="164.50" r="2.25" fill="#fff" stroke="#2222cc" stroke-width="1.3"/>
<circle cx="571.46" cy="191.10" r="2.25" fill="#fff" stroke="#2222cc" stroke-width="1.3"/>
<circle cx="585.79" cy="217.40" r="2.25" fill="#fff" stroke="#2222cc" stroke-width="1.3"/>
<circle cx="600.11" cy="227.50" r="2.25" fill="#fff" stroke="#2222cc" stroke-width="1.3"/>
<circle cx="614.44" cy="210.10" r="2.25" fill="#fff" stroke="#2222cc" stroke-width="1.3"/>
<circle cx="628.77" cy="183.10" r="2.25" fill="#fff" stroke="#2222cc" stroke-width="1.3"/>
<circle cx="643.10" cy="158.10" r="2.25" fill="#fff" stroke="#2222cc" stroke-width="1.3"/>
<circle cx="657.43" cy="137.30" r="2.25" fill="#fff" stroke="#2222cc" stroke-width="1.3"/>
<circle cx="671.76" cy="121.20" r="2.25" fill="#fff" stroke="#2222cc" stroke-width="1.3"/>
<circle cx="686.09" cy="108.30" r="2.25" fill="#fff" stroke="#2222cc" stroke-width="1.3"/>
<circle cx="700.41" cy="97.50" r="2.25" fill="#fff" stroke="#2222cc" stroke-width="1.3"/>
<circle cx="714.74" cy="89.40" r="2.25" fill="#fff" stroke="#2222cc" stroke-width="1.3"/>
<circle cx="729.07" cy="83.10" r="2.25" fill="#fff" stroke="#2222cc" stroke-width="1.3"/>
<circle cx="743.40" cy="78.40" r="2.25" fill="#fff" stroke="#2222cc" stroke-width="1.3"/>
<path d="M442.50 73.80 C444.89 74.13 452.05 74.73 456.83 75.80 C461.60 76.87 466.38 78.47 471.16 80.20 C475.93 81.93 480.71 84.05 485.49 86.20 C490.26 88.35 495.04 90.50 499.81 93.10 C504.59 95.70 509.37 98.65 514.14 101.80 C518.92 104.95 523.70 108.18 528.47 112.00 C533.25 115.82 538.02 119.62 542.80 124.70 C547.58 129.78 552.35 135.77 557.13 142.50 C561.90 149.23 566.68 156.82 571.46 165.10 C576.23 173.38 581.01 183.52 585.79 192.20 C590.56 200.88 595.91 211.82 600.11 217.20 C604.32 222.58 608.61 223.38 611.00 224.50 C613.39 225.62 611.48 227.32 614.44 223.90 C617.40 220.48 624.00 211.83 628.77 204.00 C633.55 196.17 638.32 185.37 643.10 176.90 C647.88 168.43 652.65 160.53 657.43 153.20 C662.20 145.87 666.98 138.85 671.76 132.90 C676.53 126.95 681.31 122.27 686.09 117.50 C690.86 112.73 695.64 108.17 700.41 104.30 C705.19 100.43 709.97 97.32 714.74 94.30 C719.52 91.28 724.30 88.73 729.07 86.20 C733.85 83.67 741.01 80.28 743.40 79.10" fill="none" stroke="#e23ce2" stroke-width="1.1"/>
<path d="M440.08 73.80L444.45 71.50L444.45 76.10Z" fill="#fff" stroke="#e23ce2" stroke-width="1.1"/>
<path d="M454.41 75.80L458.78 73.50L458.78 78.10Z" fill="#fff" stroke="#e23ce2" stroke-width="1.1"/>
<path d="M468.74 80.20L473.11 77.90L473.11 82.50Z" fill="#fff" stroke="#e23ce2" stroke-width="1.1"/>
<path d="M483.07 86.20L487.44 83.90L487.44 88.50Z" fill="#fff" stroke="#e23ce2" stroke-width="1.1"/>
<path d="M497.40 93.10L501.77 90.80L501.77 95.40Z" fill="#fff" stroke="#e23ce2" stroke-width="1.1"/>
<path d="M511.73 101.80L516.10 99.50L516.10 104.10Z" fill="#fff" stroke="#e23ce2" stroke-width="1.1"/>
<path d="M526.06 112.00L530.43 109.70L530.43 114.30Z" fill="#fff" stroke="#e23ce2" stroke-width="1.1"/>
<path d="M540.38 124.70L544.75 122.40L544.75 127.00Z" fill="#fff" stroke="#e23ce2" stroke-width="1.1"/>
<path d="M554.71 142.50L559.08 140.20L559.08 144.80Z" fill="#fff" stroke="#e23ce2" stroke-width="1.1"/>
<path d="M569.04 165.10L573.41 162.80L573.41 167.40Z" fill="#fff" stroke="#e23ce2" stroke-width="1.1"/>
<path d="M583.37 192.20L587.74 189.90L587.74 194.50Z" fill="#fff" stroke="#e23ce2" stroke-width="1.1"/>
<path d="M597.70 217.20L602.07 214.90L602.07 219.50Z" fill="#fff" stroke="#e23ce2" stroke-width="1.1"/>
<path d="M612.03 223.90L616.40 221.60L616.40 226.20Z" fill="#fff" stroke="#e23ce2" stroke-width="1.1"/>
<path d="M626.36 204.00L630.73 201.70L630.73 206.30Z" fill="#fff" stroke="#e23ce2" stroke-width="1.1"/>
<path d="M640.68 176.90L645.05 174.60L645.05 179.20Z" fill="#fff" stroke="#e23ce2" stroke-width="1.1"/>
<path d="M655.01 153.20L659.38 150.90L659.38 155.50Z" fill="#fff" stroke="#e23ce2" stroke-width="1.1"/>
<path d="M669.34 132.90L673.71 130.60L673.71 135.20Z" fill="#fff" stroke="#e23ce2" stroke-width="1.1"/>
<path d="M683.67 117.50L688.04 115.20L688.04 119.80Z" fill="#fff" stroke="#e23ce2" stroke-width="1.1"/>
<path d="M698.00 104.30L702.37 102.00L702.37 106.60Z" fill="#fff" stroke="#e23ce2" stroke-width="1.1"/>
<path d="M712.33 94.30L716.70 92.00L716.70 96.60Z" fill="#fff" stroke="#e23ce2" stroke-width="1.1"/>
<path d="M726.66 86.20L731.03 83.90L731.03 88.50Z" fill="#fff" stroke="#e23ce2" stroke-width="1.1"/>
<path d="M740.99 79.10L745.36 76.80L745.36 81.40Z" fill="#fff" stroke="#e23ce2" stroke-width="1.1"/>
<path d="M442.50 69.80 C444.89 69.97 452.05 70.18 456.83 70.80 C461.60 71.42 466.38 72.28 471.16 73.50 C475.93 74.72 480.71 76.43 485.49 78.10 C490.26 79.77 495.04 81.47 499.81 83.50 C504.59 85.53 509.37 87.92 514.14 90.30 C518.92 92.68 523.70 95.00 528.47 97.80 C533.25 100.60 538.02 103.40 542.80 107.10 C547.58 110.80 552.35 115.05 557.13 120.00 C561.90 124.95 566.68 130.40 571.46 136.80 C576.23 143.20 581.01 150.32 585.79 158.40 C590.56 166.48 595.34 175.57 600.11 185.30 C604.89 195.03 609.67 208.42 614.44 216.80 C619.22 225.18 624.00 234.37 628.77 235.60 C633.55 236.83 638.32 230.13 643.10 224.20 C647.88 218.27 652.65 209.45 657.43 200.00 C662.20 190.55 666.98 176.83 671.76 167.50 C676.53 158.17 681.31 151.12 686.09 144.00 C690.86 136.88 695.64 130.38 700.41 124.80 C705.19 119.22 709.97 114.70 714.74 110.50 C719.52 106.30 724.30 102.93 729.07 99.60 C733.85 96.27 741.01 92.02 743.40 90.50" fill="none" stroke="#f0963a" stroke-width="1.1"/>
<path d="M442.50 67.50L444.80 71.87L440.20 71.87Z" fill="#fff" stroke="#f0963a" stroke-width="1.1"/>
<path d="M456.83 68.50L459.13 72.87L454.53 72.87Z" fill="#fff" stroke="#f0963a" stroke-width="1.1"/>
<path d="M471.16 71.20L473.46 75.57L468.86 75.57Z" fill="#fff" stroke="#f0963a" stroke-width="1.1"/>
<path d="M485.49 75.80L487.79 80.17L483.19 80.17Z" fill="#fff" stroke="#f0963a" stroke-width="1.1"/>
<path d="M499.81 81.20L502.11 85.57L497.51 85.57Z" fill="#fff" stroke="#f0963a" stroke-width="1.1"/>
<path d="M514.14 88.00L516.44 92.37L511.84 92.37Z" fill="#fff" stroke="#f0963a" stroke-width="1.1"/>
<path d="M528.47 95.50L530.77 99.87L526.17 99.87Z" fill="#fff" stroke="#f0963a" stroke-width="1.1"/>
<path d="M542.80 104.80L545.10 109.17L540.50 109.17Z" fill="#fff" stroke="#f0963a" stroke-width="1.1"/>
<path d="M557.13 117.70L559.43 122.07L554.83 122.07Z" fill="#fff" stroke="#f0963a" stroke-width="1.1"/>
<path d="M571.46 134.50L573.76 138.87L569.16 138.87Z" fill="#fff" stroke="#f0963a" stroke-width="1.1"/>
<path d="M585.79 156.10L588.09 160.47L583.49 160.47Z" fill="#fff" stroke="#f0963a" stroke-width="1.1"/>
<path d="M600.11 183.00L602.41 187.37L597.81 187.37Z" fill="#fff" stroke="#f0963a" stroke-width="1.1"/>
<path d="M614.44 214.50L616.74 218.87L612.14 218.87Z" fill="#fff" stroke="#f0963a" stroke-width="1.1"/>
<path d="M628.77 233.30L631.07 237.67L626.47 237.67Z" fill="#fff" stroke="#f0963a" stroke-width="1.1"/>
<path d="M643.10 221.90L645.40 226.27L640.80 226.27Z" fill="#fff" stroke="#f0963a" stroke-width="1.1"/>
<path d="M657.43 197.70L659.73 202.07L655.13 202.07Z" fill="#fff" stroke="#f0963a" stroke-width="1.1"/>
<path d="M671.76 165.20L674.06 169.57L669.46 169.57Z" fill="#fff" stroke="#f0963a" stroke-width="1.1"/>
<path d="M686.09 141.70L688.39 146.07L683.79 146.07Z" fill="#fff" stroke="#f0963a" stroke-width="1.1"/>
<path d="M700.41 122.50L702.71 126.87L698.11 126.87Z" fill="#fff" stroke="#f0963a" stroke-width="1.1"/>
<path d="M714.74 108.20L717.04 112.57L712.44 112.57Z" fill="#fff" stroke="#f0963a" stroke-width="1.1"/>
<path d="M729.07 97.30L731.37 101.67L726.77 101.67Z" fill="#fff" stroke="#f0963a" stroke-width="1.1"/>
<path d="M743.40 88.20L745.70 92.57L741.10 92.57Z" fill="#fff" stroke="#f0963a" stroke-width="1.1"/>
</g>
<rect x="442.50" y="39.50" width="300.90" height="219.70" fill="none" stroke="#000" stroke-width="1.2"/>
<line x1="449.66" y1="259.20" x2="449.66" y2="256.70" stroke="#000" stroke-width="1.3"/>
<line x1="449.66" y1="39.50" x2="449.66" y2="42.00" stroke="#000" stroke-width="1.3"/>
<line x1="485.49" y1="259.20" x2="485.49" y2="254.70" stroke="#000" stroke-width="1.3"/>
<line x1="485.49" y1="39.50" x2="485.49" y2="44.00" stroke="#000" stroke-width="1.3"/>
<text x="485.49" y="273.70" class="tk" text-anchor="middle">6.5</text>
<line x1="521.31" y1="259.20" x2="521.31" y2="256.70" stroke="#000" stroke-width="1.3"/>
<line x1="521.31" y1="39.50" x2="521.31" y2="42.00" stroke="#000" stroke-width="1.3"/>
<line x1="557.13" y1="259.20" x2="557.13" y2="254.70" stroke="#000" stroke-width="1.3"/>
<line x1="557.13" y1="39.50" x2="557.13" y2="44.00" stroke="#000" stroke-width="1.3"/>
<text x="557.13" y="273.70" class="tk" text-anchor="middle">7.0</text>
<line x1="592.95" y1="259.20" x2="592.95" y2="256.70" stroke="#000" stroke-width="1.3"/>
<line x1="592.95" y1="39.50" x2="592.95" y2="42.00" stroke="#000" stroke-width="1.3"/>
<line x1="628.77" y1="259.20" x2="628.77" y2="254.70" stroke="#000" stroke-width="1.3"/>
<line x1="628.77" y1="39.50" x2="628.77" y2="44.00" stroke="#000" stroke-width="1.3"/>
<text x="628.77" y="273.70" class="tk" text-anchor="middle">7.5</text>
<line x1="664.59" y1="259.20" x2="664.59" y2="256.70" stroke="#000" stroke-width="1.3"/>
<line x1="664.59" y1="39.50" x2="664.59" y2="42.00" stroke="#000" stroke-width="1.3"/>
<line x1="700.41" y1="259.20" x2="700.41" y2="254.70" stroke="#000" stroke-width="1.3"/>
<line x1="700.41" y1="39.50" x2="700.41" y2="44.00" stroke="#000" stroke-width="1.3"/>
<text x="700.41" y="273.70" class="tk" text-anchor="middle">8.0</text>
<line x1="736.24" y1="259.20" x2="736.24" y2="256.70" stroke="#000" stroke-width="1.3"/>
<line x1="736.24" y1="39.50" x2="736.24" y2="42.00" stroke="#000" stroke-width="1.3"/>
<line x1="442.50" y1="103.45" x2="447.00" y2="103.45" stroke="#000" stroke-width="1.3"/>
<line x1="743.40" y1="103.45" x2="738.90" y2="103.45" stroke="#000" stroke-width="1.3"/>
<line x1="442.50" y1="168.31" x2="447.00" y2="168.31" stroke="#000" stroke-width="1.3"/>
<line x1="743.40" y1="168.31" x2="738.90" y2="168.31" stroke="#000" stroke-width="1.3"/>
<line x1="442.50" y1="233.16" x2="447.00" y2="233.16" stroke="#000" stroke-width="1.3"/>
<line x1="743.40" y1="233.16" x2="738.90" y2="233.16" stroke="#000" stroke-width="1.3"/>
<line x1="442.50" y1="71.03" x2="445.00" y2="71.03" stroke="#000" stroke-width="1.3"/>
<line x1="743.40" y1="71.03" x2="740.90" y2="71.03" stroke="#000" stroke-width="1.3"/>
<line x1="442.50" y1="135.88" x2="445.00" y2="135.88" stroke="#000" stroke-width="1.3"/>
<line x1="743.40" y1="135.88" x2="740.90" y2="135.88" stroke="#000" stroke-width="1.3"/>
<line x1="442.50" y1="200.73" x2="445.00" y2="200.73" stroke="#000" stroke-width="1.3"/>
<line x1="743.40" y1="200.73" x2="740.90" y2="200.73" stroke="#000" stroke-width="1.3"/>
<text x="438.20" y="42.90" class="tk" text-anchor="end">0</text>
<text x="438.20" y="107.75" class="tk" text-anchor="end">-5</text>
<text x="438.20" y="172.61" class="tk" text-anchor="end">-10</text>
<text x="438.20" y="237.46" class="tk" text-anchor="end">-15</text>
<line x1="449" y1="157.40" x2="476" y2="157.40" stroke="#000000" stroke-width="1.3"/>
<rect x="460.28" y="154.58" width="5.64" height="5.64" fill="#000000"/>
<text x="479.3" y="161.80" class="pct">0%</text>
<line x1="449" y1="173.40" x2="476" y2="173.40" stroke="#e02828" stroke-width="1.3"/>
<path d="M463.10 170.40L466.10 173.40L463.10 176.40L460.10 173.40Z" fill="#fff" stroke="#e02828" stroke-width="1.2"/>
<text x="479.3" y="177.80" class="pct">20%</text>
<line x1="449" y1="189.40" x2="476" y2="189.40" stroke="#22dd22" stroke-width="1.3"/>
<circle cx="463.10" cy="189.40" r="3.00" fill="#22dd22"/>
<text x="479.3" y="193.80" class="pct">40%</text>
<line x1="449" y1="205.40" x2="476" y2="205.40" stroke="#2222cc" stroke-width="1.3"/>
<circle cx="463.10" cy="205.40" r="2.70" fill="#fff" stroke="#2222cc" stroke-width="1.3"/>
<text x="479.3" y="209.80" class="pct">60%</text>
<line x1="449" y1="221.40" x2="476" y2="221.40" stroke="#e23ce2" stroke-width="1.3"/>
<path d="M460.20 221.40L465.45 218.64L465.45 224.16Z" fill="#fff" stroke="#e23ce2" stroke-width="1.1"/>
<text x="479.3" y="225.80" class="pct">80%</text>
<line x1="449" y1="237.40" x2="476" y2="237.40" stroke="#f0963a" stroke-width="1.3"/>
<path d="M463.10 234.64L465.86 239.88L460.34 239.88Z" fill="#fff" stroke="#f0963a" stroke-width="1.1"/>
<text x="479.3" y="241.80" class="pct">100%</text>
<text x="215.5" y="290.6" class="ax" text-anchor="middle">Frequency (GHz)</text>
<text x="599" y="289" class="ax" text-anchor="middle">Frequency (GHz)</text>
<text transform="translate(27.3 142.7) rotate(-90)" class="ax" text-anchor="middle">Reflection (dB)</text>
<text transform="translate(412.3 142.9) rotate(-90)" class="ax" text-anchor="middle">Reflection (dB)</text>
<text x="9.6" y="24.6" class="pl">(a)</text>
<text x="395.2" y="24.6" class="pl">(b)</text>
</svg></body></html>
